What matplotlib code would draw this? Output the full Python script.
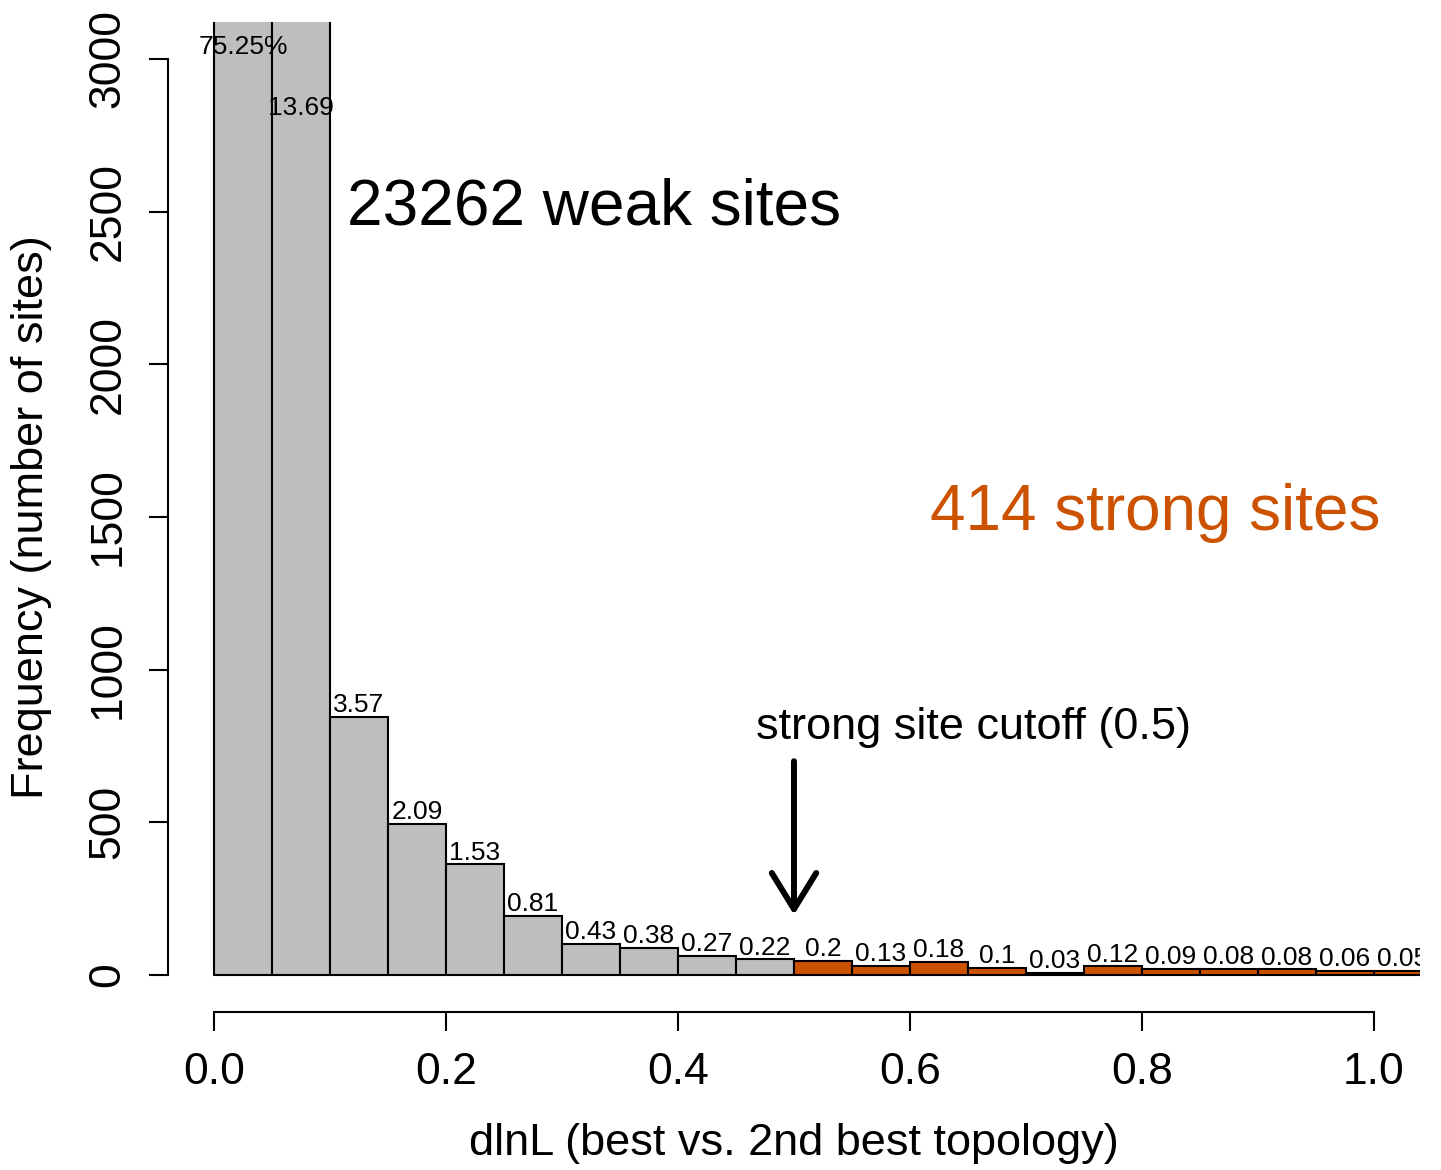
import numpy as np
import matplotlib
matplotlib.use("Agg")
import matplotlib.pyplot as plt

plt.rcParams['font.family'] = ['Liberation Sans', 'DejaVu Sans']

# Histogram of dlnL values: bin edges (width 0.05) and site counts per bin
bin_width = 0.05
bin_starts = [0.00, 0.05, 0.10, 0.15, 0.20, 0.25, 0.30, 0.35, 0.40, 0.45,
              0.50, 0.55, 0.60, 0.65, 0.70, 0.75, 0.80, 0.85, 0.90, 0.95, 1.00]
counts = [17816, 3241, 845, 495, 362, 192, 101, 89, 63, 51,
          47, 30, 42, 23, 7, 28, 21, 19, 18, 14, 12]

weak_sites = 23262
strong_sites = 414
cutoff = 0.5

# Where the percentage labels of the two tallest (off-scale) bars are anchored
label_caps = {0: 3000, 1: 2800}

x_ticks = [0.0, 0.2, 0.4, 0.6, 0.8, 1.0]
y_ticks = [0, 500, 1000, 1500, 2000, 2500, 3000]

grey = "#BEBEBE"
orange = "#CC5200"

total = weak_sites + strong_sites
starts = np.array(bin_starts)
vals = np.array(counts, dtype=float)
colors = [orange if s >= cutoff - 1e-9 else grey for s in starts]

fig = plt.figure(figsize=(14.41, 11.70), dpi=100)
ax = fig.add_axes([0.1163, 0.1354, 0.8694, 0.8455])

ax.bar(starts, vals, width=bin_width, align='edge', color=colors,
       edgecolor='black', linewidth=1.5)

ax.set_xlim(-0.04, 1.04)
ax.set_ylim(-120, 3120)

# Percentage labels above each bar (clipped to the plotting region)
for i, (s, c) in enumerate(zip(starts, vals)):
    pct = round(c / total * 100, 2)
    txt = f"{pct:g}" + ("%" if i == 0 else "")
    y = label_caps.get(i, c)
    ax.annotate(txt, (s + bin_width / 2, y), xytext=(0, 3.5),
                textcoords='offset points', ha='center', va='baseline',
                fontsize=19, clip_on=True)

ax.text(0.115, 2515, f"{weak_sites} weak sites", fontsize=46,
        ha='left', va='center')
ax.text(0.811, 1513, f"{strong_sites} strong sites", fontsize=46,
        ha='center', va='center', color=orange)
ax.text(0.655, 812, f"strong site cutoff ({cutoff:g})", fontsize=32.5,
        ha='center', va='center')
ax.annotate("", xy=(cutoff, 197), xytext=(cutoff, 700),
            arrowprops=dict(arrowstyle='->,head_length=2.6,head_width=1.6',
                            lw=4.3, color='black', shrinkA=0, shrinkB=0,
                            capstyle='round', joinstyle='round'))

# R-style axes: detached spines that span only the tick range
for side in ['top', 'right']:
    ax.spines[side].set_visible(False)
ax.spines['left'].set_bounds(0, 3000)
ax.spines['bottom'].set_bounds(0, 1.0)
ax.spines['left'].set_linewidth(1.5)
ax.spines['bottom'].set_linewidth(1.5)

ax.set_xticks(x_ticks)
ax.set_xticklabels([f"{t:.1f}" for t in x_ticks])
ax.set_yticks(y_ticks)
ax.set_yticklabels([str(t) for t in y_ticks], rotation=90, va='center')
ax.tick_params(axis='both', length=14, width=1.5, labelsize=32)
ax.tick_params(axis='x', pad=15)
ax.tick_params(axis='y', pad=14)

ax.set_xlabel("dlnL (best vs. 2nd best topology)", fontsize=32.5, labelpad=22)
ax.set_ylabel("Frequency (number of sites)", fontsize=32.5, labelpad=26)

fig.savefig("out.png", dpi=100)
